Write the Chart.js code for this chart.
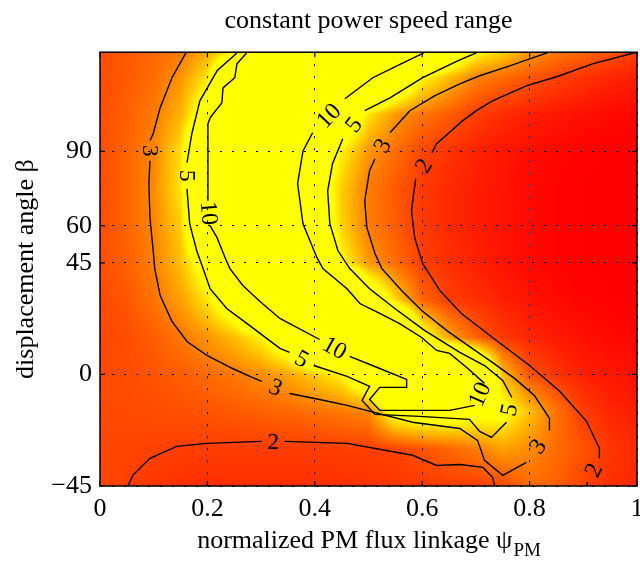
<!DOCTYPE html>
<html>
<head>
<meta charset="utf-8">
<script src="https://cdn.jsdelivr.net/npm/chart.js@4.4.1/dist/chart.umd.min.js"></script>
<style>
  html, body { margin: 0; padding: 0; background: #fff; }
</style>
</head>
<body>
<canvas id="cpsr" width="640" height="563"></canvas>
<script>
// grid of the speed range ratio
const psiGrid = [0, 0.05, 0.1, 0.15, 0.2, 0.25, 0.3, 0.35, 0.4, 0.45, 0.5, 0.55, 0.6, 0.65, 0.7, 0.75, 0.8, 0.85, 0.9, 0.95, 1];
const betaGrid = [-45, -30, -15, 0, 15, 30, 45, 60, 75, 90, 105, 120, 130];
const speedRange = [
  [2.1, 2.0, 1.85, 1.75, 1.7, 1.7, 1.7, 1.7, 1.72, 1.75, 1.8, 1.85, 1.9, 1.93, 1.97, 2.15, 2.7, 2.5, 2.03, 1.75, 1.6],   // -45
  [2.1, 2.07, 2.02, 1.98, 1.95, 1.95, 1.95, 1.95, 1.95, 1.97, 1.99, 2.05, 2.3, 2.6, 2.95, 3.5, 3.2, 2.7, 2.3, 1.85, 1.65], // -30
  [2.15, 2.15, 2.2, 2.25, 2.3, 2.4, 2.5, 2.6, 2.75, 2.9, 3.1, 5.5, 6, 6, 5.5, 5.3, 4, 2.8, 1.95, 1.6, 1.45],           // -15
  [2.15, 2.2, 2.3, 2.45, 2.65, 2.9, 3.2, 3.6, 4.2, 4.9, 7, 10.5, 12, 12, 9.5, 4, 2.3, 1.8, 1.5, 1.35, 1.25],           // 0
  [2.1, 2.2, 2.45, 2.85, 3.35, 3.95, 4.85, 6.5, 10, 12, 12, 12, 5.5, 3.6, 2.5, 1.9, 1.6, 1.4, 1.25, 1.15, 1.1],        // 15
  [2.15, 2.35, 2.8, 3.5, 4.6, 6.5, 10.3, 12, 12, 12, 7, 4.4, 2.6, 1.98, 1.75, 1.5, 1.3, 1.15, 1.05, 1.0, 1.0],         // 30
  [2.2, 2.5, 3.0, 4.0, 5.8, 11, 12, 12, 10.5, 5, 3.4, 2.7, 2.0, 1.75, 1.5, 1.3, 1.15, 1.05, 1.0, 1.0, 1.0],            // 45
  [2.2, 2.55, 3.1, 4.2, 9, 12, 12, 12, 7, 4.3, 2.95, 2.45, 1.92, 1.65, 1.45, 1.3, 1.15, 1.05, 1.0, 1.0, 1.0],          // 60
  [2.2, 2.55, 3.15, 4.6, 9.8, 12, 12, 12, 6.5, 4.2, 2.95, 2.4, 1.9, 1.65, 1.45, 1.3, 1.15, 1.05, 1.0, 1.0, 1.0],       // 75
  [2.2, 2.55, 3.1, 4.5, 9.8, 12, 12, 12, 7, 4.8, 3.35, 2.7, 2.1, 1.8, 1.55, 1.35, 1.2, 1.1, 1.02, 1.0, 1.0],           // 90
  [2.2, 2.5, 2.9, 3.8, 6, 12, 12, 12, 12, 7, 4.6, 3.4, 2.85, 2.45, 1.97, 1.7, 1.5, 1.35, 1.25, 1.15, 1.1],             // 105
  [2.2, 2.4, 2.7, 3.3, 4.6, 9.5, 12, 12, 12, 12, 10.5, 7.5, 5.0, 4.0, 3.05, 2.7, 2.35, 2.05, 1.8, 1.6, 1.45],          // 120
  [2.2, 2.4, 2.6, 2.9, 3.7, 4.8, 11, 12, 12, 12, 12, 11, 10, 7, 5.0, 4.3, 3.4, 2.9, 2.6, 2.3, 2.0]                     // 130
];

// contour lines [psi, beta]; null = gap where the level label sits
const contour10 = [
  [0.273, 129.7], [0.255, 125.3], [0.251, 119.7], [0.229, 115.6], [0.227, 109.6], [0.205, 103.5], [0.201, 101.1], [0.201, 70.1],
  null,
  [0.205, 60.0], [0.218, 55.2], [0.233, 47.1], [0.242, 42.7], [0.266, 35.9], [0.298, 29.4], [0.335, 22.6], [0.409, 14.1],
  null,
  [0.465, 7.3], [0.521, 2.4], [0.571, -2.0], [0.571, -5.2], [0.521, -5.2], [0.502, -10.1], [0.521, -14.5], [0.651, -14.5], [0.698, -12.5],
  null,
  [0.716, -3.6], [0.683, 2.8], [0.651, 8.5], [0.627, 9.7], [0.599, 14.9], [0.558, 20.5], [0.521, 24.6], [0.484, 28.6], [0.460, 34.6],
  [0.415, 42.7], [0.404, 47.1], [0.378, 60.8], [0.368, 77.0], [0.378, 90.2], [0.396, 97.5],
  null,
  [0.456, 111.2], [0.508, 119.7], [0.553, 124.5], [0.603, 129.7]
];
const contour5 = [
  [0.255, 129.7], [0.218, 122.5], [0.186, 110.4], [0.171, 97.1], [0.162, 85.4],
  null,
  [0.162, 74.9], [0.167, 60.8], [0.180, 50.0], [0.192, 42.7], [0.205, 34.6], [0.236, 26.6], [0.279, 19.7], [0.335, 10.5], [0.353, 8.9],
  null,
  [0.398, 3.6], [0.460, -0.8], [0.502, -4.8], [0.488, -10.5], [0.512, -16.1], [0.595, -16.9], [0.688, -18.1], [0.707, -23.0], [0.729, -25.4], [0.757, -19.3],
  null,
  [0.767, -9.3], [0.750, -2.4], [0.716, 3.6], [0.670, 8.9], [0.605, 17.7], [0.549, 26.6], [0.502, 34.6], [0.465, 42.7], [0.443, 50.0],
  [0.428, 60.8], [0.424, 74.1], [0.433, 85.0], [0.452, 95.1],
  null,
  [0.493, 106.4], [0.540, 111.6], [0.601, 119.7], [0.670, 126.9], [0.701, 129.7]
];
const contour3 = [
  [0.160, 129.7], [0.134, 119.7], [0.112, 107.6], [0.099, 97.1], [0.093, 94.3],
  null,
  [0.093, 86.2], [0.091, 77.0], [0.093, 63.3], [0.099, 50.0], [0.102, 42.7], [0.112, 31.8], [0.134, 21.4], [0.162, 13.3], [0.199, 7.7],
  [0.247, 2.4], [0.279, -0.8], [0.301, -2.8],
  null,
  [0.353, -7.7], [0.409, -10.1], [0.460, -12.5], [0.582, -19.3], [0.670, -21.8], [0.703, -26.6], [0.716, -34.6], [0.750, -40.7], [0.794, -35.5],
  null,
  [0.837, -22.6], [0.837, -17.7], [0.809, -8.5], [0.772, -1.6], [0.726, 5.6], [0.685, 11.7], [0.646, 17.7], [0.599, 25.8], [0.562, 33.8],
  [0.525, 42.7], [0.512, 48.8], [0.497, 59.2], [0.493, 70.1], [0.502, 82.2], [0.512, 87.0],
  null,
  [0.540, 97.5], [0.577, 106.4], [0.623, 112.4], [0.670, 117.2], [0.707, 120.5], [0.763, 124.5], [0.800, 127.3], [0.833, 129.7]
];
const contour2Right = [
  [0.999, 130], [0.917, 125.3], [0.856, 120.5], [0.794, 116.4], [0.731, 110.4], [0.701, 106.4], [0.675, 102.3], [0.627, 93.1], [0.618, 89.4],
  null,
  [0.588, 79.0], [0.580, 66.1], [0.586, 55.2], [0.601, 44.7], [0.633, 33.8], [0.673, 24.6], [0.731, 14.9], [0.800, 3.6], [0.856, -6.8],
  [0.906, -18.9], [0.930, -29.8], [0.930, -33.8],
  null,
  [0.908, -43.5], [0.906, -45]
];
const contour2Bottom = [
  [0.052, -45], [0.061, -40.7], [0.093, -33.8], [0.143, -29.0], [0.199, -27.8], [0.301, -27.0],
  null,
  [0.344, -27.0], [0.460, -27.8], [0.582, -32.6], [0.627, -36.7], [0.670, -36.3], [0.713, -37.5], [0.731, -41.5], [0.735, -45]
];

const contourLevels = ['10', '5', '3', '2', '2'];
const contourLines = [contour10, contour5, contour3, contour2Right, contour2Bottom];

const psiTicks = [0, 0.2, 0.4, 0.6, 0.8, 1];
const betaTicks = [-45, 0, 45, 60, 90];

const serif = 'Liberation Serif';

// autumn colormap, clipped between 1 and 5
function autumn(v) {
  const t = Math.min(1, Math.max(0, (v - 1) / 4));
  return [255, Math.round(255 * t), 0];
}

function locate(axis, v) {
  let i = 0;
  while (i < axis.length - 2 && v > axis[i + 1]) i++;
  const t = Math.min(1, Math.max(0, (v - axis[i]) / (axis[i + 1] - axis[i])));
  return [i, t];
}

const heatmapPlugin = {
  id: 'heatmap',
  beforeDraw(chart) {
    const { ctx, chartArea: a, scales: { x, y } } = chart;
    const left = Math.round(a.left), top = Math.round(a.top);
    const w = Math.round(a.right) - left, h = Math.round(a.bottom) - top;
    const img = ctx.createImageData(w, h);
    for (let r = 0; r < h; r++) {
      const [j, ty] = locate(betaGrid, y.getValueForPixel(top + r + 0.5));
      for (let c = 0; c < w; c++) {
        const [i, tx] = locate(psiGrid, x.getValueForPixel(left + c + 0.5));
        const lo = speedRange[j][i] * (1 - tx) + speedRange[j][i + 1] * tx;
        const hi = speedRange[j + 1][i] * (1 - tx) + speedRange[j + 1][i + 1] * tx;
        const col = autumn(lo * (1 - ty) + hi * ty);
        const k = (r * w + c) * 4;
        img.data[k] = col[0];
        img.data[k + 1] = col[1];
        img.data[k + 2] = col[2];
        img.data[k + 3] = 255;
      }
    }
    ctx.putImageData(img, left, top);
  }
};

const decorPlugin = {
  id: 'decor',
  afterDatasetsDraw(chart) {
    const { ctx, chartArea: a, scales: { x, y } } = chart;
    // contour labels in the gaps
    ctx.save();
    ctx.fillStyle = '#000';
    ctx.font = '24px "' + serif + '"';
    ctx.textAlign = 'center';
    ctx.textBaseline = 'middle';
    contourLines.forEach((line, n) => {
      line.forEach((p, k) => {
        if (p !== null) return;
        const p0 = line[k - 1], p1 = line[k + 1];
        const x0 = x.getPixelForValue(p0[0]), y0 = y.getPixelForValue(p0[1]);
        const x1 = x.getPixelForValue(p1[0]), y1 = y.getPixelForValue(p1[1]);
        let ang = Math.atan2(y1 - y0, x1 - x0);
        if (ang > Math.PI / 2) ang -= Math.PI;
        if (ang <= -Math.PI / 2) ang += Math.PI;
        ctx.save();
        ctx.translate((x0 + x1) / 2, (y0 + y1) / 2);
        ctx.rotate(ang);
        ctx.fillText(contourLevels[n], 0, 1);
        ctx.restore();
      });
    });
    ctx.restore();

    // axes box with inward ticks
    ctx.save();
    ctx.strokeStyle = '#000';
    ctx.lineWidth = 1.5;
    ctx.strokeRect(a.left, a.top, a.right - a.left, a.bottom - a.top);
    ctx.lineWidth = 1.2;
    ctx.beginPath();
    psiTicks.forEach(v => {
      const px = x.getPixelForValue(v);
      ctx.moveTo(px, a.bottom); ctx.lineTo(px, a.bottom - 5);
      ctx.moveTo(px, a.top); ctx.lineTo(px, a.top + 5);
    });
    betaTicks.forEach(v => {
      const py = y.getPixelForValue(v);
      ctx.moveTo(a.left, py); ctx.lineTo(a.left + 5, py);
      ctx.moveTo(a.right, py); ctx.lineTo(a.right - 5, py);
    });
    ctx.stroke();
    ctx.restore();
  },
  afterDraw(chart) {
    const { ctx, chartArea: a } = chart;
    ctx.save();
    ctx.fillStyle = '#000';
    ctx.textBaseline = 'alphabetic';
    // x axis title with subscript
    const main = 'normalized PM flux linkage \u03c8';
    const sub = 'PM';
    ctx.font = '26px "' + serif + '"';
    const wMain = ctx.measureText(main).width;
    ctx.font = '19px "' + serif + '"';
    const wSub = ctx.measureText(sub).width;
    const x0 = (a.left + a.right) / 2 - (wMain + wSub) / 2;
    ctx.textAlign = 'left';
    ctx.font = '26px "' + serif + '"';
    ctx.fillText(main, x0, 548);
    ctx.font = '19px "' + serif + '"';
    ctx.fillText(sub, x0 + wMain + 1, 556);
    // y axis title
    ctx.font = '26px "' + serif + '"';
    ctx.textAlign = 'center';
    ctx.textBaseline = 'middle';
    ctx.translate(26, (a.top + a.bottom) / 2);
    ctx.rotate(-Math.PI / 2);
    ctx.fillText('displacement angle \u03b2', 0, 0);
    ctx.restore();
  }
};

new Chart(document.getElementById('cpsr'), {
  type: 'scatter',
  data: {
    datasets: contourLines.map((line, n) => ({
      label: contourLevels[n],
      data: line.map(p => p ? { x: p[0], y: p[1] } : { x: null, y: null }),
      showLine: true,
      spanGaps: false,
      borderColor: '#000',
      borderWidth: 1.4,
      pointRadius: 0,
      tension: 0,
      fill: false
    }))
  },
  options: {
    responsive: false,
    devicePixelRatio: 1,
    animation: false,
    events: [],
    layout: { padding: { top: 0, right: 3, bottom: 0, left: 0 } },
    plugins: {
      legend: { display: false },
      tooltip: { enabled: false },
      title: {
        display: true,
        text: 'constant power speed range',
        color: '#000',
        fullSize: false,
        font: { family: serif, size: 26, weight: 'normal', lineHeight: 1.2 },
        padding: { top: 6, bottom: 15 }
      }
    },
    scales: {
      x: {
        type: 'linear',
        min: 0,
        max: 1,
        afterBuildTicks: s => { s.ticks = psiTicks.map(v => ({ value: v })); },
        afterFit: s => { s.height = 77; s.paddingLeft = 0; s.paddingRight = 0; },
        ticks: {
          color: '#000',
          font: { family: serif, size: 26 },
          padding: 8,
          maxRotation: 0,
          autoSkip: false,
          callback: v => String(+v.toFixed(1))
        },
        grid: { color: '#000', lineWidth: 1, drawTicks: false },
        border: { display: false, dash: [2, 10] }
      },
      y: {
        type: 'linear',
        min: -45,
        max: 130,
        afterBuildTicks: s => { s.ticks = betaTicks.map(v => ({ value: v })); },
        afterFit: s => { s.width = 100; s.paddingTop = 0; s.paddingBottom = 0; },
        ticks: {
          color: '#000',
          font: { family: serif, size: 26 },
          padding: 8,
          autoSkip: false,
          callback: v => v < 0 ? '\u2212' + Math.abs(v) : String(v)
        },
        grid: { color: '#000', lineWidth: 1, drawTicks: false },
        border: { display: false, dash: [2, 10] }
      }
    }
  },
  plugins: [heatmapPlugin, decorPlugin]
});
</script>
</body>
</html>
